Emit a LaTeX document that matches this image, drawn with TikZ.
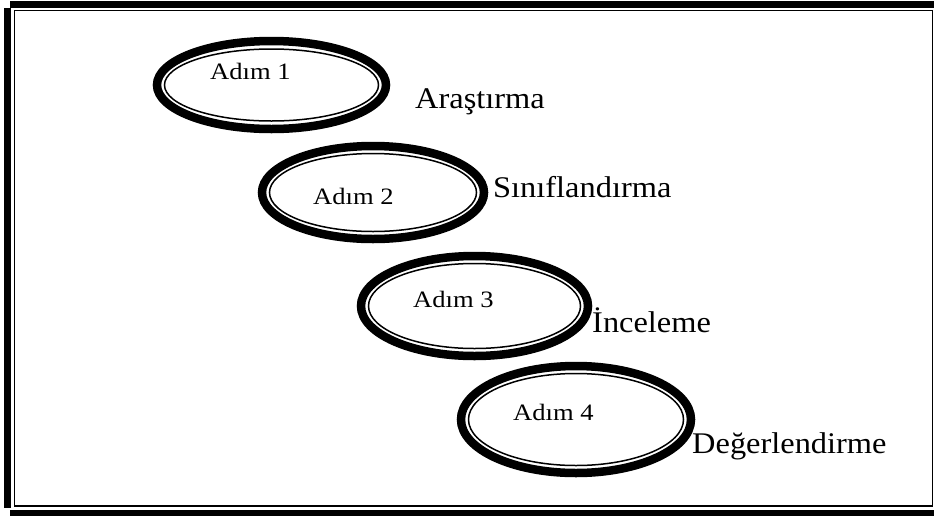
\documentclass[tikz,border=0pt]{standalone}
\usepackage{fontspec}
\setmainfont{Liberation Serif}
\usetikzlibrary{shapes.geometric}
\begin{document}
\begin{tikzpicture}[x=1pt,y=-1pt,
  thickring/.style={ellipse, draw=black, line width=8.5, inner sep=0pt},
  thinring/.style={draw=black, line width=1.5},
  steptext/.style={anchor=base west, inner sep=0pt, xscale=1.13, font=\fontsize{23.5}{28}\selectfont},
  labeltext/.style={anchor=base west, inner sep=0pt, xscale=1.08, font=\fontsize{30}{36}\selectfont},
  framethick/.style={line width=7},
  framethin/.style={line width=1.5}]
\useasboundingbox (0,0) rectangle (934,515);
% frame
\draw[framethick] (10,4.5) -- (934,4.5);
\draw[framethick] (7.5,8) -- (7.5,508);
\draw[framethick] (10,513.5) -- (934,513.5);
\draw[framethin] (14.3,10.3) rectangle (932.7,505.8);
% ellipses
\node[thickring, minimum width=229, minimum height=88] (e1) at (271.5,85) {};
\draw[thinring] (e1.center) ellipse [x radius=107, y radius=36];
\node[thickring, minimum width=222, minimum height=93] (e2) at (373,192.5) {};
\draw[thinring] (e2.center) ellipse [x radius=103.5, y radius=39];
\node[thickring, minimum width=227, minimum height=100] (e3) at (474.5,306) {};
\draw[thinring] (e3.center) ellipse [x radius=106, y radius=42.5];
\node[thickring, minimum width=230, minimum height=107] (e4) at (576,419.5) {};
\draw[thinring] (e4.center) ellipse [x radius=107.5, y radius=46];
% step texts
\node[steptext] (t1) at (210,79) {Adım 1};
\node[steptext] (t2) at (313,204) {Adım 2};
\node[steptext] (t3) at (413,307) {Adım 3};
\node[steptext] (t4) at (513,420) {Adım 4};
% labels
\node[labeltext] (l1) at (415,108) {Araştırma};
\node[labeltext] (l2) at (493,197) {Sınıflandırma};
\node[labeltext] (l3) at (592,332) {İnceleme};
\node[labeltext] (l4) at (692,453) {Değerlendirme};
\end{tikzpicture}
\end{document}
